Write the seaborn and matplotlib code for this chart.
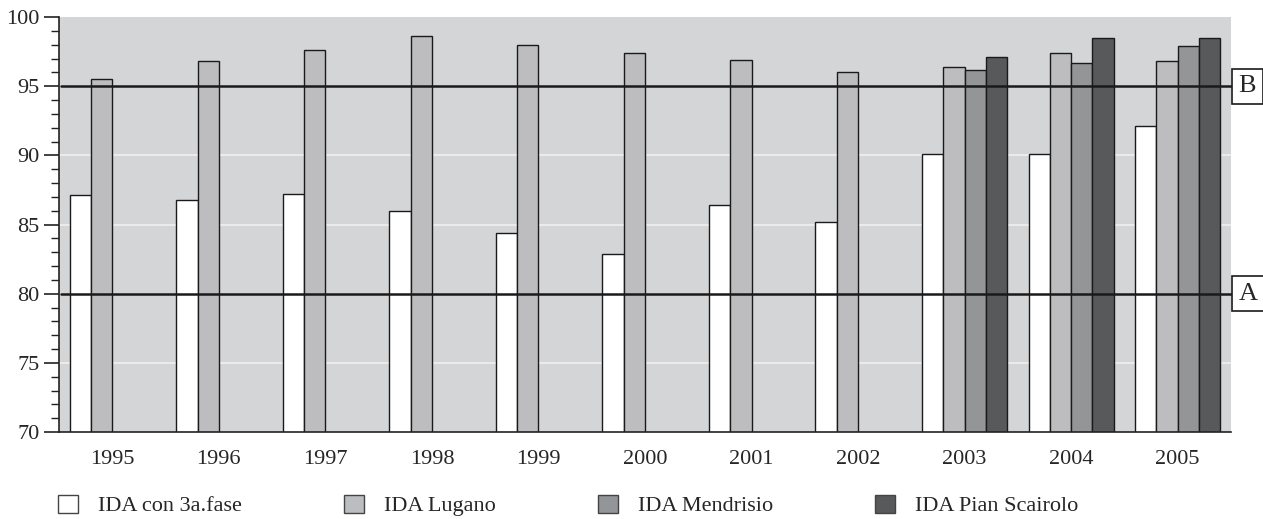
import numpy as np
import pandas as pd
import matplotlib
matplotlib.use("Agg")
import matplotlib.pyplot as plt
import matplotlib.transforms as mtransforms
from matplotlib.patches import Patch
from matplotlib.ticker import MultipleLocator
import seaborn as sns

years = ["1995", "1996", "1997", "1998", "1999", "2000", "2001", "2002", "2003", "2004", "2005"]
series = ["IDA con 3a.fase", "IDA Lugano", "IDA Mendrisio", "IDA Pian Scairolo"]
ida_3fase = [87.1, 86.8, 87.2, 86.0, 84.4, 82.9, 86.4, 85.2, 90.1, 90.1, 92.1]
ida_lugano = [95.5, 96.8, 97.6, 98.6, 98.0, 97.4, 96.9, 96.0, 96.4, 97.4, 96.8]
ida_mendrisio = [np.nan] * 8 + [96.2, 96.7, 97.9]
ida_pian = [np.nan] * 8 + [97.1, 98.5, 98.5]
ref_lines = [80, 95]
ref_labels = ["A", "B"]
colors = ["#ffffff", "#bcbdc1", "#939598", "#58595b"]

rows = []
for name, vals in zip(series, [ida_3fase, ida_lugano, ida_mendrisio, ida_pian]):
    for y, v in zip(years, vals):
        rows.append({"Anno": y, "Serie": name, "Valore": v})
df = pd.DataFrame(rows)

sns.set_style("white")
plt.rcParams["font.family"] = ["Liberation Serif", "DejaVu Serif"]

fig = plt.figure(figsize=(12.63, 5.19), dpi=100)
ax = fig.add_axes([59 / 1263, 1 - 432 / 519, (1231 - 59) / 1263, (432 - 17) / 519])
ax.set_facecolor("#d4d5d7")

for g in [75, 85, 90]:
    ax.axhline(g, color="#f0f0f0", lw=1.2, zorder=0.5)

sns.barplot(data=df, x="Anno", y="Valore", hue="Serie", hue_order=series, order=years,
            palette=dict(zip(series, colors)), edgecolor="#1a1a1a", linewidth=1.0,
            width=0.8, ax=ax, legend=False, zorder=2)

ax.set_ylim(70, 100)
ax.set_xlim(-0.5, len(years) - 0.5)
ax.yaxis.set_major_locator(MultipleLocator(5))
ax.yaxis.set_minor_locator(MultipleLocator(1))
ax.tick_params(axis="y", which="major", length=11, width=1.2, direction="out",
               labelsize=16, color="#222222", left=True, pad=3)
ax.tick_params(axis="y", which="minor", length=6, width=1.0, direction="out",
               color="#222222", left=True)
ax.tick_params(axis="x", length=0, labelsize=16, pad=13)
ax.set_xlabel("")
ax.set_ylabel("")
for s in ["top", "right"]:
    ax.spines[s].set_visible(False)
for s in ["left", "bottom"]:
    ax.spines[s].set_color("#222222")
    ax.spines[s].set_linewidth(1.2)

trans = mtransforms.blended_transform_factory(ax.transAxes, ax.transData)
for yv, lab in zip(ref_lines, ref_labels):
    ax.plot([0.002, 1.0], [yv, yv], color="#1a1a1a", lw=1.8, transform=trans,
            clip_on=False, zorder=5)
    ax.annotate(lab, xy=(1.0, yv), xycoords=trans, xytext=(5.5, 0), textcoords="offset points",
                ha="left", va="center", fontsize=19,
                bbox=dict(boxstyle="square,pad=0.25", facecolor="white", edgecolor="#1a1a1a", lw=1.2),
                zorder=6, annotation_clip=False)

handles = [Patch(facecolor=c, edgecolor="#444444", lw=1.0) for c in colors]
fig.legend(handles, series, loc="center left", bbox_to_anchor=(58 / 1263, 0.026), ncol=4,
           frameon=False, fontsize=16, handlelength=0.9, handleheight=0.9,
           handletextpad=0.9, columnspacing=4.6, borderpad=0, borderaxespad=0)

fig.savefig("out.png", dpi=100, facecolor="white")
